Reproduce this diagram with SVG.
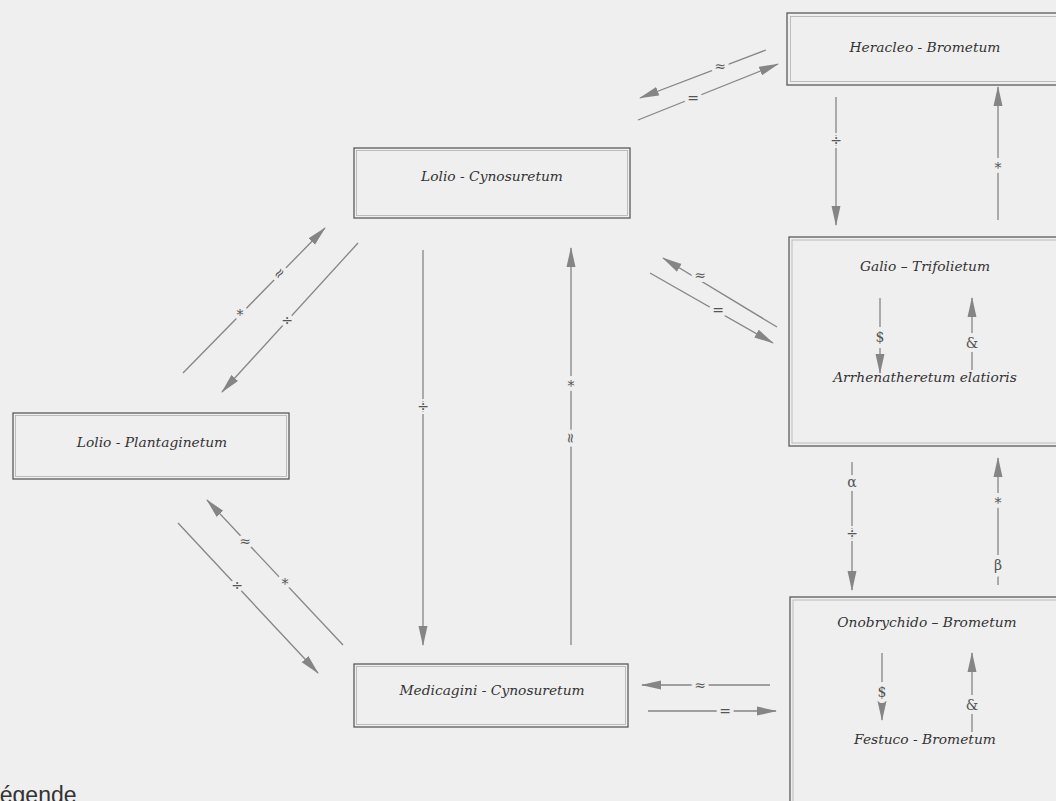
<svg xmlns="http://www.w3.org/2000/svg" width="1056" height="801" viewBox="0 0 1056 801">
<defs>
<marker id="ah" markerUnits="userSpaceOnUse" markerWidth="20" markerHeight="10" refX="19" refY="5" orient="auto">
<path d="M0,0.5 L20,5 L0,9.5 z" fill="#858585"/>
</marker>
<style>
.bo{fill:none;stroke:#5a5a5a;stroke-width:1.3}
.bi{fill:none;stroke:#b0b0b0;stroke-width:0.8}
.nt{font-family:"DejaVu Serif","Liberation Serif",serif;font-style:italic;font-size:13.8px;fill:#333;text-anchor:middle}
.ln{stroke:#858585;stroke-width:1.3;fill:none;marker-end:url(#ah)}
.lb{font-family:"DejaVu Serif","Liberation Serif",serif;font-size:14px;fill:#555;text-anchor:middle;dominant-baseline:central;paint-order:stroke;stroke:#efefef;stroke-width:8px;stroke-linejoin:round}
.lg{font-family:"Liberation Sans",Arial,sans-serif;font-size:23px;fill:#333}
</style>
</defs>
<rect x="0" y="0" width="1056" height="801" fill="#efefef"/>

<g id="heracleo">
<rect class="bo" x="787" y="13" width="285" height="72"/>
<rect class="bi" x="790.5" y="16.5" width="280" height="65"/>
<text class="nt" x="925" y="52">Heracleo - Brometum</text>
</g>
<g id="lolio-cynosuretum">
<rect class="bo" x="354" y="148" width="276" height="70"/>
<rect class="bi" x="356.5" y="150.5" width="271" height="65"/>
<text class="nt" x="492" y="181">Lolio - Cynosuretum</text>
</g>
<g id="galio">
<rect class="bo" x="789" y="237" width="285" height="209"/>
<rect class="bi" x="792" y="240" width="280" height="203"/>
<text class="nt" x="925" y="271">Galio – Trifolietum</text>
<text class="nt" x="925" y="382">Arrhenatheretum elatioris</text>
</g>
<g id="lolio-plantaginetum">
<rect class="bo" x="13" y="413" width="276" height="66"/>
<rect class="bi" x="15.5" y="415.5" width="271" height="61"/>
<text class="nt" x="152" y="447">Lolio - Plantaginetum</text>
</g>
<g id="medicagini">
<rect class="bo" x="354" y="664" width="274" height="63"/>
<rect class="bi" x="356.5" y="666.5" width="269" height="58"/>
<text class="nt" x="492" y="695">Medicagini - Cynosuretum</text>
</g>
<g id="onobrychido">
<rect class="bo" x="790" y="597" width="285" height="230"/>
<rect class="bi" x="793" y="600" width="280" height="224"/>
<text class="nt" x="927" y="627">Onobrychido – Brometum</text>
<text class="nt" x="925" y="744">Festuco - Brometum</text>
</g>

<g id="connectors">
<line class="ln" x1="766" y1="50" x2="640" y2="98"/>
<text class="lb" x="720" y="66">≈</text>
<line class="ln" x1="638" y1="120" x2="778" y2="64"/>
<text class="lb" x="693" y="98">=</text>

<line class="ln" x1="836" y1="97" x2="836" y2="225"/>
<text class="lb" x="836" y="140">÷</text>
<line class="ln" x1="998" y1="220" x2="998" y2="87"/>
<text class="lb" x="998" y="168">*</text>

<line class="ln" x1="777" y1="327" x2="663" y2="258"/>
<text class="lb" x="700" y="275">≈</text>
<line class="ln" x1="650" y1="273" x2="773" y2="343"/>
<text class="lb" x="718" y="310">=</text>

<line class="ln" x1="423" y1="250" x2="423" y2="645"/>
<text class="lb" x="423" y="406">÷</text>
<line class="ln" x1="571" y1="645" x2="571" y2="248"/>
<text class="lb" x="571" y="386">*</text>
<text class="lb" x="571" y="438" transform="rotate(90 571 438)">≈</text>

<line class="ln" x1="183" y1="373" x2="325" y2="228"/>
<text class="lb" x="240" y="315">*</text>
<text class="lb" x="279" y="273" transform="rotate(-50 279 273)">≈</text>
<line class="ln" x1="358" y1="243" x2="222" y2="392"/>
<text class="lb" x="287" y="320">÷</text>

<line class="ln" x1="343" y1="645" x2="207" y2="500"/>
<text class="lb" x="245" y="541">≈</text>
<text class="lb" x="285" y="584">*</text>
<line class="ln" x1="178" y1="523" x2="318" y2="673"/>
<text class="lb" x="237" y="585">÷</text>

<line class="ln" x1="770" y1="685" x2="642" y2="685"/>
<text class="lb" x="700" y="685">≈</text>
<line class="ln" x1="648" y1="711" x2="776" y2="711"/>
<text class="lb" x="725" y="711">=</text>

<line class="ln" x1="852" y1="462" x2="852" y2="590"/>
<text class="lb" x="852" y="482">α</text>
<text class="lb" x="852" y="533">÷</text>
<line class="ln" x1="998" y1="585" x2="998" y2="458"/>
<text class="lb" x="998" y="503">*</text>
<text class="lb" x="998" y="565">β</text>

<line class="ln" x1="880" y1="298" x2="880" y2="373"/>
<text class="lb" x="880" y="337">$</text>
<line class="ln" x1="972" y1="370" x2="972" y2="298"/>
<text class="lb" x="972" y="343">&amp;</text>

<line class="ln" x1="882" y1="653" x2="882" y2="720"/>
<text class="lb" x="882" y="692">$</text>
<line class="ln" x1="972" y1="732" x2="972" y2="653"/>
<text class="lb" x="972" y="705">&amp;</text>
</g>

<text class="lg" x="-13" y="803">Légende</text>
</svg>
